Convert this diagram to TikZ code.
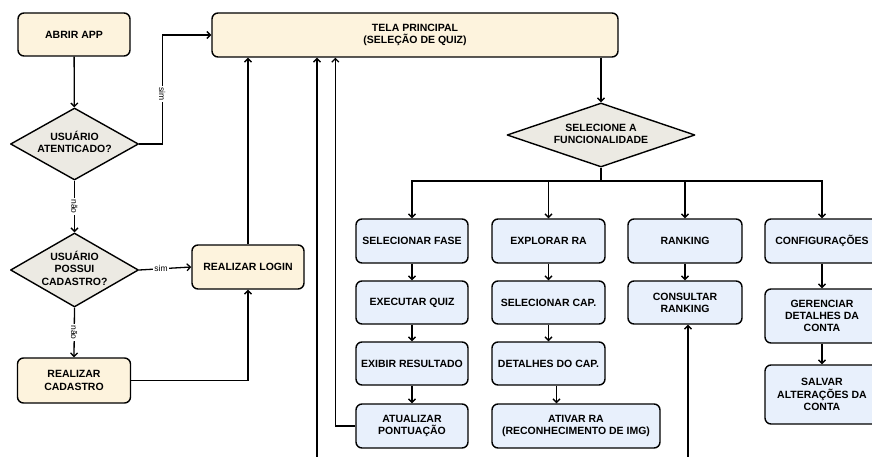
\documentclass[tikz,border=0pt]{standalone}
\usepackage{fontspec}
\setmainfont{Liberation Sans}
\setsansfont{Liberation Sans}
\usetikzlibrary{shapes.geometric,arrows.meta,positioning}
\definecolor{cream}{HTML}{FDF3DD}
\definecolor{dgray}{HTML}{ECEAE3}
\definecolor{lblue}{HTML}{E8F0FC}
\newcommand{\dtxt}[1]{\makebox[0pt]{\begin{tabular}{@{}c@{}}#1\end{tabular}}}
\tikzset{
  base/.style={draw=black, line width=1.4pt, align=center, inner sep=0pt,
    font=\fontsize{10.5}{12.2}\selectfont\bfseries},
  cbox/.style={base, rectangle, rounded corners=6pt, fill=cream},
  bbox/.style={base, rectangle, rounded corners=6pt, fill=lblue},
  dbox/.style={base, diamond, fill=dgray, line join=round},
  arr/.style={line width=1.3pt, -{Straight Barb[length=3.5pt,width=7pt,line width=1.3pt]}},
  ln/.style={line width=1.3pt},
  lbl/.style={fill=white, inner sep=1.5pt, font=\fontsize{8.5}{9}\selectfont}
}
\begin{document}
\begin{tikzpicture}[x=1pt,y=-1pt]
\useasboundingbox (0,0) rectangle (872,457);
\clip (0,0) rectangle (872,457);
% left column
\node[cbox, minimum width=112pt, minimum height=43pt] (abrir) at (74,34.5) {ABRIR APP};
\node[dbox, minimum width=128pt, minimum height=72pt, shape aspect=1.77] (d1) at (74.5,144) {\dtxt{USUÁRIO\\ATENTICADO?}};
\node[dbox, minimum width=128pt, minimum height=74pt, shape aspect=1.72] (d2) at (74.5,270) {\dtxt{USUÁRIO\\POSSUI\\CADASTRO?}};
\node[cbox, minimum width=113pt, minimum height=45pt] (cad) at (74,380.5) {REALIZAR\\CADASTRO};
\node[cbox, minimum width=112pt, minimum height=44pt] (login) at (248,267) {REALIZAR LOGIN};
% main
\node[cbox, minimum width=406pt, minimum height=44pt] (tela) at (415,35) {TELA PRINCIPAL\\(SELEÇÃO DE QUIZ)};
\node[dbox, minimum width=188pt, minimum height=64pt, shape aspect=2.94] (d3) at (601,135) {\dtxt{SELECIONE A\\FUNCIONALIDADE}};
% columns
\node[bbox, minimum width=112pt, minimum height=44pt] (fase) at (412,241) {SELECIONAR FASE};
\node[bbox, minimum width=112pt, minimum height=43pt] (exec) at (412,302.5) {EXECUTAR QUIZ};
\node[bbox, minimum width=112pt, minimum height=43pt] (exib) at (412,363.5) {EXIBIR RESULTADO};
\node[bbox, minimum width=112pt, minimum height=44pt] (atual) at (412,426) {ATUALIZAR\\PONTUAÇÃO};
\node[bbox, minimum width=113pt, minimum height=44pt] (expl) at (548.5,241) {EXPLORAR RA};
\node[bbox, minimum width=113pt, minimum height=43pt] (selcap) at (548.5,302.5) {SELECIONAR CAP.};
\node[bbox, minimum width=113pt, minimum height=43pt] (detcap) at (548.5,363.5) {DETALHES DO CAP.};
\node[bbox, minimum width=168pt, minimum height=44pt] (ativ) at (576,426) {ATIVAR RA\\(RECONHECIMENTO DE IMG)};
\node[bbox, minimum width=114pt, minimum height=44pt] (rank) at (685,241) {RANKING};
\node[bbox, minimum width=114pt, minimum height=43pt] (cons) at (685,302.5) {CONSULTAR\\RANKING};
\node[bbox, minimum width=114pt, minimum height=44pt] (conf) at (822,241) {CONFIGURAÇÕES};
\node[bbox, minimum width=114pt, minimum height=54pt] (ger) at (822,316) {GERENCIAR\\DETALHES DA\\CONTA};
\node[bbox, minimum width=114pt, minimum height=59pt] (salv) at (822,394.5) {SALVAR\\ALTERAÇÕES DA\\CONTA};
% coordinates
\coordinate (bus) at (601,181);
\coordinate (b1) at (317,470);
\coordinate (b2) at (688,470);
% connectors left
\draw[arr] (abrir) -- (d1);
\draw[arr] (d1.east) -- ++(23,0) |- node[lbl, pos=0.23, rotate=-90]{sim} (tela.west);
\draw[arr] (d1.south) -- node[lbl, rotate=-90]{não} (d2.north);
\draw[arr] (d2.east) -- node[lbl, pos=0.42]{sim} (login.west);
\draw[arr] (d2.south) -- node[lbl, rotate=-90]{não} (cad.north);
\draw[arr] (cad.east) -| (login.south);
\draw[arr] (login.north) -- (login.north |- tela.south);
% main
\draw[arr] (d3.north |- tela.south) -- (d3.north);
\draw[ln] (d3.south) -- (bus);
\draw[arr] (bus) -| (fase.north);
\draw[arr] (bus) -| (expl.north);
\draw[arr] (bus) -| (rank.north);
\draw[arr] (bus) -| (conf.north);
% columns
\draw[arr] (fase) -- (exec);
\draw[arr] (exec) -- (exib);
\draw[arr] (exib) -- (atual);
\draw[arr] (expl) -- (selcap);
\draw[arr] (selcap) -- (detcap);
\draw[arr] ([xshift=8pt]detcap.south) -- ([xshift=8pt]detcap.south |- ativ.north);
\draw[arr] (rank) -- (cons);
\draw[arr] (conf) -- (ger);
\draw[arr] (ger) -- (salv);
% returns
\draw[arr] (atual.west) -- ++(-20,0) coordinate (q) -- (q |- tela.south);
\draw[arr] (b1) -- (b1 |- tela.south);
\draw[arr] (b2) -- (b2 |- cons.south);
\end{tikzpicture}
\end{document}
